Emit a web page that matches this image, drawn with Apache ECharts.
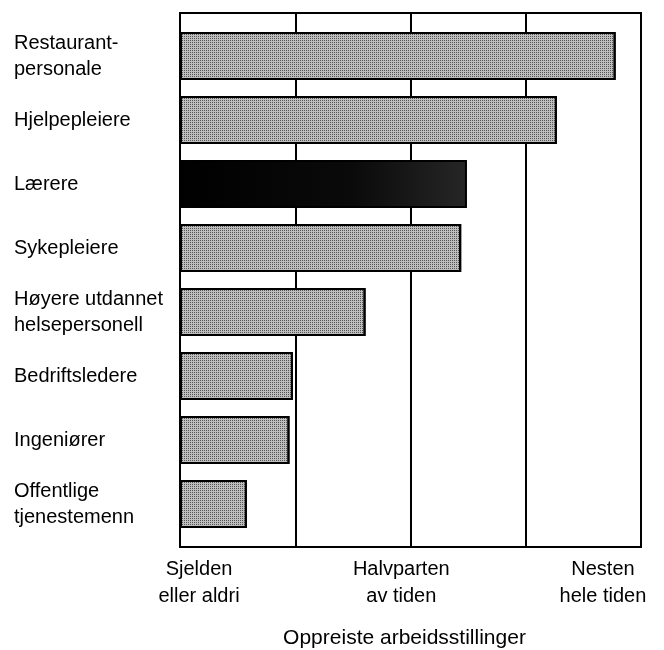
<!DOCTYPE html>
<html>
<head>
<meta charset="utf-8">
<script src="https://cdn.jsdelivr.net/npm/echarts@6/dist/echarts.min.js"></script>
<style>
  html, body { margin: 0; padding: 0; background: #fff; }
  #chart { width: 664px; height: 650px; }
</style>
</head>
<body>
<div id="chart"></div>
<script>
const categories = [
  'Restaurant-\npersonale',
  'Hjelpepleiere',
  'Lærere',
  'Sykepleiere',
  'Høyere utdannet\nhelsepersonell',
  'Bedriftsledere',
  'Ingeniører',
  'Offentlige\ntjenestemenn'
]
const values = [3.78, 3.27, 2.49, 2.44, 1.61, 0.98, 0.95, 0.58]
const highlighted = 'Lærere'
const scaleLabels = ['Sjelden\neller aldri', 'Halvparten\nav tiden', 'Nesten\nhele tiden']
const scaleLabelValues = [0.165, 1.92, 3.67]
const axisTitle = 'Oppreiste arbeidsstillinger'

const font = '"Liberation Sans", Arial, Helvetica, sans-serif'

const chart = echarts.init(document.getElementById('chart'), null, { renderer: 'canvas' })

// nearest scale label for a custom label value
const scaleLabelFor = (v) => {
  let best = 0
  scaleLabelValues.forEach((p, i) => {
    if (Math.abs(p - v) < Math.abs(scaleLabelValues[best] - v)) best = i
  })
  return scaleLabels[best]
}

// halftone-like dotted grey
const dotted = {
  color: '#bebebe',
  decal: {
    symbol: 'rect',
    symbolSize: 1,
    color: '#555',
    dashArrayX: [1, 1],
    dashArrayY: [1, 1]
  }
}

const barData = values.map((v, i) => ({
  value: v,
  itemStyle: categories[i] === highlighted
    ? {
        color: {
          type: 'linear', x: 0, y: 0, x2: 1, y2: 0,
          colorStops: [{ offset: 0, color: '#000' }, { offset: 0.6, color: '#0a0a0a' }, { offset: 1, color: '#262626' }]
        }
      }
    : dotted
}))

const option = {
  animation: false,
  backgroundColor: '#fff',
  textStyle: { fontFamily: font, color: '#000' },
  grid: [
    // frame with the vertical lines
    { left: 180, right: 23, top: 13, bottom: 103, outerBoundsMode: 'none', show: true, borderColor: '#000', borderWidth: 2, backgroundColor: 'transparent' },
    // bars
    { left: 180, right: 23, top: 24, bottom: 114, outerBoundsMode: 'none' }
  ],
  xAxis: [
    {
      gridIndex: 0,
      type: 'value',
      min: 0,
      max: 4,
      interval: 1,
      axisLine: { show: false },
      axisTick: { show: false },
      splitLine: { show: true, lineStyle: { color: '#000', width: 2 } },
      axisLabel: {
        customValues: scaleLabelValues,
        formatter: (v) => scaleLabelFor(v),
        fontFamily: font,
        fontSize: 20,
        lineHeight: 27,
        color: '#000',
        margin: 9
      },
      name: axisTitle,
      nameLocation: 'middle',
      nameGap: 81,
      nameTextStyle: { fontFamily: font, fontSize: 21, color: '#000', padding: [0, 12, 0, 0] }
    },
    { gridIndex: 1, type: 'value', min: 0, max: 4, show: false }
  ],
  yAxis: [
    { gridIndex: 0, type: 'value', show: false },
    {
      gridIndex: 1,
      type: 'category',
      data: categories,
      inverse: true,
      axisLine: { show: false },
      axisTick: { show: false },
      splitLine: { show: false },
      axisLabel: {
        align: 'left',
        margin: 166,
        fontFamily: font,
        fontSize: 20,
        lineHeight: 26,
        color: '#000'
      }
    }
  ],
  series: [
    {
      type: 'bar',
      xAxisIndex: 1,
      yAxisIndex: 1,
      barWidth: 48,
      data: barData,
      itemStyle: { borderColor: '#000', borderWidth: 2 }
    }
  ]
}

chart.setOption(option)
</script>
</body>
</html>
